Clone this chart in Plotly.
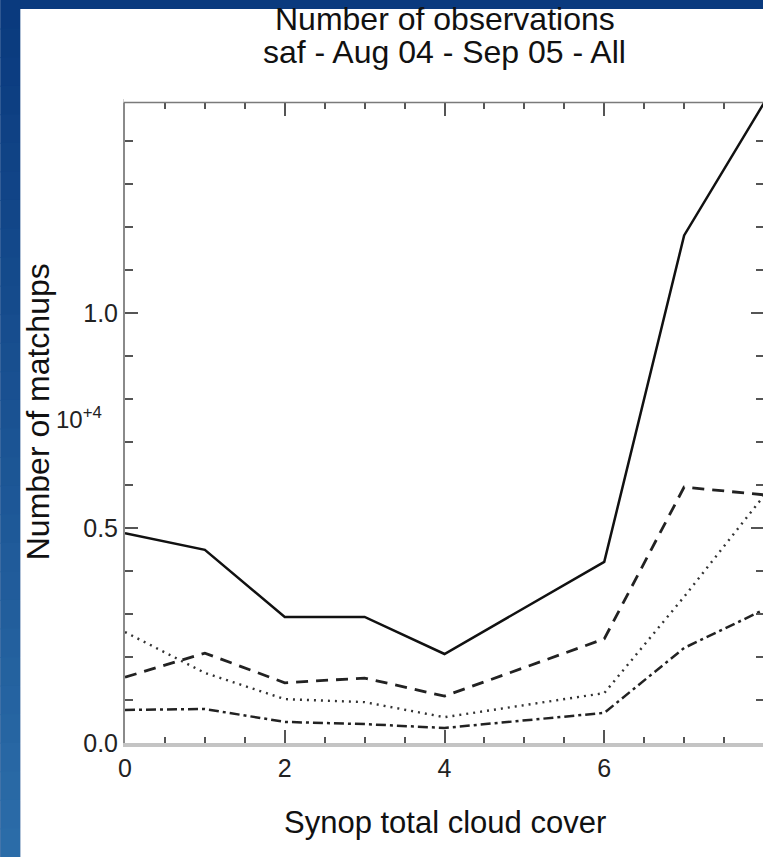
import plotly.graph_objects as go

# ---- data (units of 10^4 matchups) ----
cloud_cover = [0, 1, 2, 3, 4, 5, 6, 7, 8]
series_solid = [0.488, 0.449, 0.293, 0.293, 0.207, 0.315, 0.421, 1.180, 1.488]
series_dashed = [0.153, 0.209, 0.140, 0.151, 0.109, 0.176, 0.242, 0.595, 0.577]
series_dotted = [0.258, 0.163, 0.102, 0.095, 0.060, 0.088, 0.116, 0.340, 0.575]
series_dashdot = [0.077, 0.079, 0.049, 0.044, 0.035, 0.052, 0.070, 0.221, 0.310]
x_tickvals = [0, 2, 4, 6]
y_tickvals = [0.0, 0.5, 1.0]
y_ticktext = ["0.0", "0.5", "1.0"]

W, H = 771, 857
ML, MR, MT, MB = 125, 5, 103, 114
PW = W - ML - MR
PH = H - MT - MB

def px2x(p):
    return (p - ML) / PW

def px2y(p):
    return (H - MB - p) / PH

FONT = "Liberation Sans, Arial, sans-serif"

fig = go.Figure()
styles = [
    (series_solid, dict(color="#111111", width=2.5, dash="solid")),
    (series_dashed, dict(color="#222222", width=2.8, dash="12px,8px")),
    (series_dotted, dict(color="#333333", width=2.4, dash="2px,5px")),
    (series_dashdot, dict(color="#222222", width=2.5, dash="10px,4px,3px,4px")),
]
for ys, ln in styles:
    fig.add_trace(go.Scatter(x=cloud_cover, y=ys, mode="lines", line=ln,
                             showlegend=False, hoverinfo="skip"))

shapes = []
# background: dark blue paper, white panel
shapes.append(dict(type="rect", xref="paper", yref="paper", layer="below",
                   x0=px2x(0), x1=px2x(W), y0=px2y(0), y1=px2y(H),
                   fillcolor="#0a3a7e", line=dict(width=0)))
# left strip gradient
top_c = (10, 58, 126)
bot_c = (43, 108, 168)
n = 30
for i in range(n):
    t = i / (n - 1)
    c = tuple(int(round(top_c[k] + (bot_c[k] - top_c[k]) * t)) for k in range(3))
    shapes.append(dict(type="rect", xref="paper", yref="paper", layer="below",
                       x0=px2x(0), x1=px2x(20),
                       y0=px2y(H * (i + 1) / n + 1), y1=px2y(H * i / n),
                       fillcolor="rgb(%d,%d,%d)" % c, line=dict(width=0)))
shapes.append(dict(type="rect", xref="paper", yref="paper", layer="below",
                   x0=px2x(20), x1=px2x(W), y0=px2y(H), y1=px2y(9),
                   fillcolor="white", line=dict(width=0)))
# top axis line: cover mirrored light band, draw thin gray line
shapes.append(dict(type="line", xref="paper", yref="paper", layer="above",
                   x0=-0.002, x1=1, y0=1 + 2.5 / PH, y1=1 + 2.5 / PH,
                   line=dict(color="white", width=3)))
shapes.append(dict(type="line", xref="paper", yref="paper", layer="above",
                   x0=-0.002, x1=1, y0=1 + 0.5 / PH, y1=1 + 0.5 / PH,
                   line=dict(color="#7a7a7a", width=1.5)))

annotations = [
    dict(text="Number of observations", x=0.5, y=px2y(19), xref="paper", yref="paper",
         xanchor="center", yanchor="middle",
         showarrow=False, font=dict(family=FONT, size=32, color="#111")),
    dict(text="saf - Aug 04 - Sep 05 - All", x=0.5, y=px2y(52), xref="paper", yref="paper",
         xanchor="center", yanchor="middle",
         showarrow=False, font=dict(family=FONT, size=32, color="#111")),
    dict(text="Synop total cloud cover", x=0.5, y=px2y(822), xref="paper", yref="paper",
         xanchor="center", yanchor="middle",
         showarrow=False, font=dict(family=FONT, size=31, color="#111")),
    dict(text="Number of matchups", x=px2x(38), y=px2y(412), xref="paper", yref="paper",
         xanchor="center", yanchor="middle",
         showarrow=False, textangle=-90, font=dict(family=FONT, size=32, color="#111")),
    dict(text="10<sup>+4</sup>", x=px2x(104), y=px2y(418), xref="paper", yref="paper",
         xanchor="right", yanchor="middle", showarrow=False,
         font=dict(family=FONT, size=24, color="#222")),
]

fig.update_layout(
    width=W, height=H,
    margin=dict(l=ML, r=MR, t=MT, b=MB, pad=0),
    paper_bgcolor="white", plot_bgcolor="rgba(0,0,0,0)",
    shapes=shapes, annotations=annotations,
    font=dict(family=FONT, color="#222"),
)
fig.update_xaxes(
    range=[0, 8], showgrid=False, zeroline=False,
    showline=True, linecolor="#c4c4c4", linewidth=4, mirror="ticks",
    ticks="inside", ticklen=13, tickwidth=1.5, tickcolor="#555",
    tickmode="array", tickvals=x_tickvals, ticktext=[str(v) for v in x_tickvals],
    tickfont=dict(family=FONT, size=25, color="#222"),
    minor=dict(tickmode="linear", tick0=0, dtick=0.5, ticks="inside", ticklen=6,
               tickwidth=1.5, tickcolor="#555"),
)
fig.update_yaxes(
    range=[0, 1.488], showgrid=False, zeroline=False,
    showline=True, linecolor="#8a8a8a", linewidth=2, mirror="ticks",
    ticks="inside", ticklen=13, tickwidth=1.5, tickcolor="#555",
    tickmode="array", tickvals=y_tickvals, ticktext=y_ticktext,
    tickfont=dict(family=FONT, size=25, color="#222"),
    minor=dict(tickmode="linear", tick0=0, dtick=0.1, ticks="inside", ticklen=8,
               tickwidth=1.5, tickcolor="#555"),
)

fig.write_html("out.html")
